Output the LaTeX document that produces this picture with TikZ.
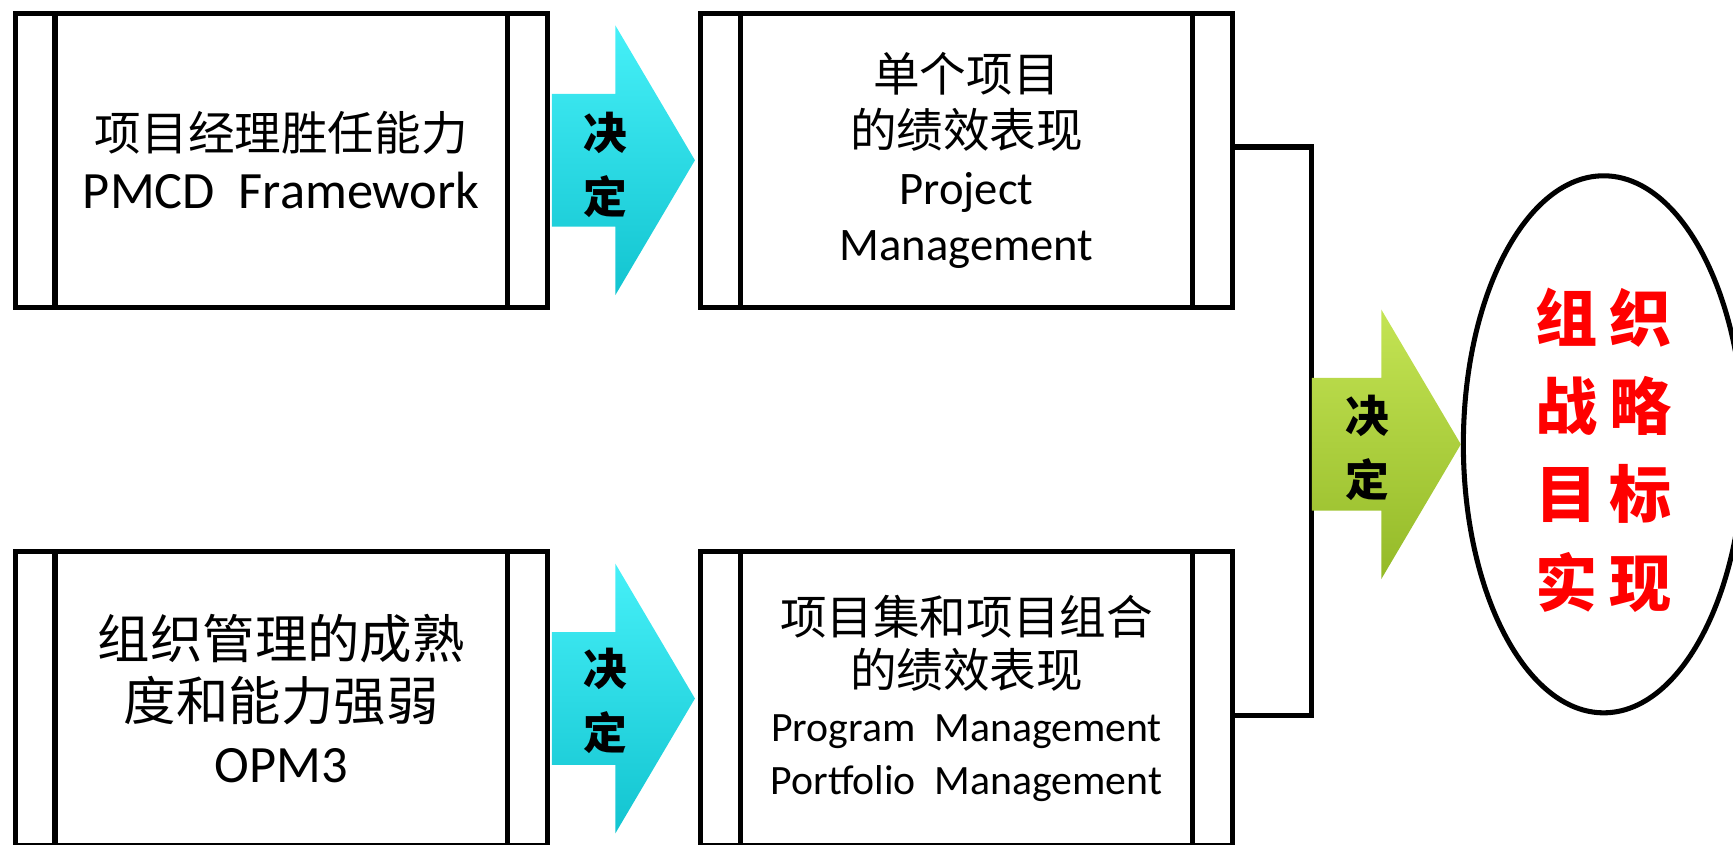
\documentclass[tikz,border=0pt]{standalone}
\usepackage{fontspec}
\setmainfont{Carlito}
\newfontfamily\cjk{Noto Sans CJK SC}
\usetikzlibrary{calc,shapes.geometric}
\definecolor{cyantop}{RGB}{70,240,248}
\definecolor{cyanbot}{RGB}{18,196,208}
\definecolor{greentop}{RGB}{196,228,84}
\definecolor{greenbot}{RGB}{148,186,40}
\newcommand\blockarrow[3]{%
  \shade[#1] ($(#2)+(0,-60)$) -- ($(#3)+(-72,-60)$) -- ($(#3)+(-72,-122)$) -- (#3)
    -- ($(#3)+(-72,122)$) -- ($(#3)+(-72,60)$) -- ($(#2)+(0,60)$) -- cycle;}
\newcommand\cg{\hspace{0.22cm}}
\begin{document}
\begin{tikzpicture}[x=0.02cm,y=-0.02cm,
  box/.style={draw=black, line width=2.6pt, minimum width=9.62cm, minimum height=5.32cm,
    inner sep=0pt, align=center, text=black},
  inner/.style={line width=2.6pt},
  conn/.style={line width=2.6pt, draw=black},
  cyanarrow/.style={top color=cyantop, bottom color=cyanbot},
  greenarrow/.style={top color=greentop, bottom color=greenbot},
  decide/.style={font=\cjk\bfseries\fontsize{22.5}{33}\selectfont, align=center, inner sep=0pt}]
\useasboundingbox (0,0) rectangle (1568,764);
\clip (0,0) rectangle (1568,764);

% boxes
\node[box, font=\fontsize{24}{29.6}\selectfont] (A) at (254.5,145)
  {{\cjk 项目经理胜任能力}\\{\fontsize{27}{29.6}\selectfont PMCD~~Framework}};
\node[box, font=\fontsize{24}{29}\selectfont] (B) at (874.5,145)
  {{\cjk 单个项目}\\{\cjk 的绩效表现}\\Project\\Management};
\node[box, font=\fontsize{27}{32}\selectfont] (C) at (254.5,632)
  {{\cjk 组织管理的成熟}\\{\cjk 度和能力强弱}\\OPM3};
\node[box, font=\fontsize{24}{27.6}\selectfont] (D) at (874.5,632)
  {{\cjk 项目集和项目组合}\\{\cjk 的绩效表现}\\{\fontsize{21.5}{27.6}\selectfont Program~~Management}\\{\fontsize{21.5}{27.6}\selectfont Portfolio~~Management}};

% inner vertical lines
\foreach \n in {A,B,C,D}{
  \draw[inner] ($(\n.north west)+(38,0)$) -- ($(\n.south west)+(38,0)$);
  \draw[inner] ($(\n.north east)+(-38,0)$) -- ($(\n.south east)+(-38,0)$);
}

% ellipse
\node[ellipse, draw=black, line width=2.6pt, minimum width=5.08cm, minimum height=9.72cm,
  inner sep=0pt] (E) at (1451,402) {};
\node[font=\cjk\bfseries\fontsize{32}{45.5}\selectfont, text=red, align=center, inner sep=0pt]
  (Et) at (1451,407) {组\cg 织\\战\cg 略\\目\cg 标\\实\cg 现};

% connector
\coordinate (jt) at (1187,133);
\coordinate (jb) at (1187,647);
\coordinate (J) at (1187,402);
\draw[conn] ($(B.east)+(0,-12)$) -- (jt) -- (jb) -- ($(D.east)+(0,15)$);

% block arrows
\coordinate (a1s) at ($(A.east)+(2,0)$);
\coordinate (a1t) at ($(B.west)+(-3,0)$);
\blockarrow{cyanarrow}{a1s}{a1t}
\node[decide] (d1) at (548,149) {决\\定};

\coordinate (a2s) at ($(C.east)+(2,0)$);
\coordinate (a2t) at ($(D.west)+(-3,0)$);
\blockarrow{cyanarrow}{a2s}{a2t}
\node[decide] (d2) at (548,634) {决\\定};

\coordinate (a3t) at (E.west);
\blockarrow{greenarrow}{J}{a3t}
\node[decide] (d3) at (1237,405) {决\\定};
\end{tikzpicture}
\end{document}
